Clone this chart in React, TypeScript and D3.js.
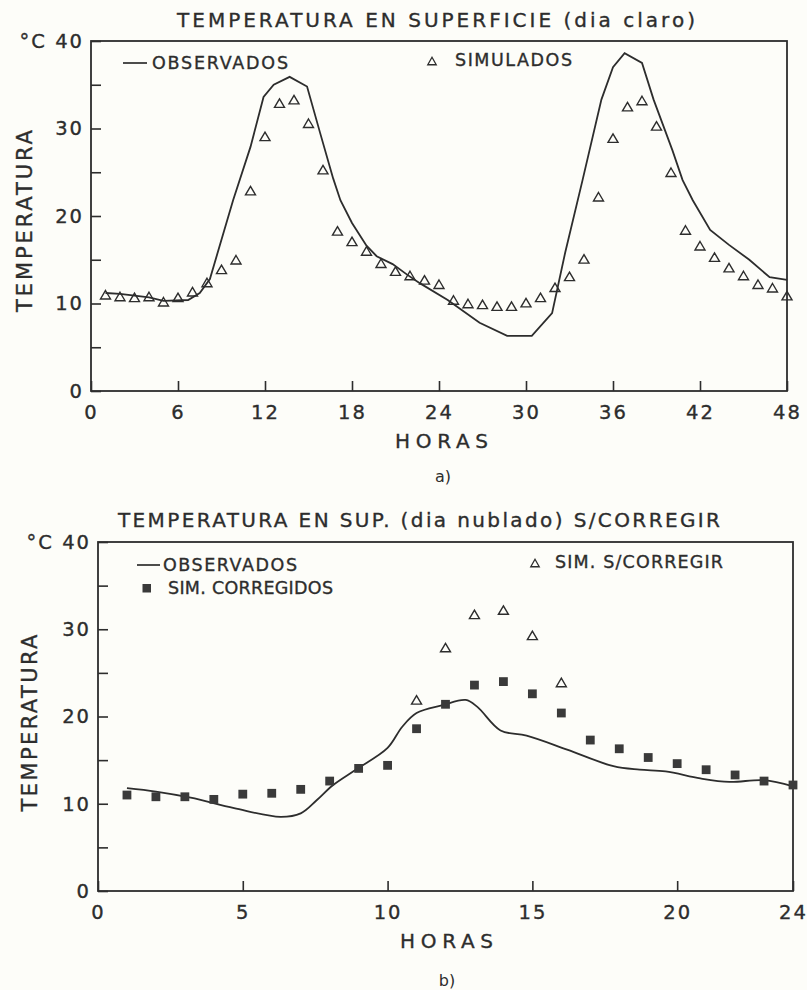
import React, { useEffect, useRef } from "react";
import * as d3 from "d3";

// a) temperatura en superficie, dia claro
const horasObsA = [1, 2, 3, 4, 5, 6.7, 7.5, 8.2, 9.8, 11, 11.9, 12.6, 13.7, 14.9, 15.8, 16.7, 17.2, 18, 19, 19.7, 20.8, 21.8, 22.7, 24.6, 26.8, 28.7, 30.4, 31.8, 32.7, 33.9, 35.2, 36, 36.8, 38, 38.8, 40.1, 40.8, 41.5, 42.7, 44, 45.4, 46.8, 48];
const tempObsA = [11.2, 11.1, 10.9, 10.7, 10.3, 10.4, 11.2, 12.8, 21.8, 27.9, 33.6, 35, 35.9, 34.8, 29.5, 24.3, 21.8, 19.2, 16.6, 15.4, 14.5, 13.3, 12.3, 10.4, 7.8, 6.3, 6.3, 8.9, 15.8, 24.1, 33.3, 37, 38.6, 37.5, 33.3, 27.5, 24.1, 21.8, 18.4, 16.7, 15.0, 13.0, 12.7];
const horasSimA = [1, 2, 3, 4, 5, 6, 7, 8, 9, 10, 11, 12, 13, 14, 15, 16, 17, 18, 19, 20, 21, 22, 23, 24, 25, 26, 27, 28, 29, 30, 31, 32, 33, 34, 35, 36, 37, 38, 39, 40, 41, 42, 43, 44, 45, 46, 47, 48];
const tempSimA = [11.0, 10.8, 10.7, 10.8, 10.2, 10.7, 11.35, 12.4, 13.9, 15.0, 22.9, 29.1, 32.9, 33.3, 30.6, 25.3, 18.3, 17.1, 16.0, 14.6, 13.7, 13.2, 12.7, 12.2, 10.4, 10.0, 9.9, 9.7, 9.7, 10.1, 10.7, 11.85, 13.1, 15.1, 22.2, 28.9, 32.5, 33.2, 30.3, 25.0, 18.4, 16.6, 15.3, 14.1, 13.2, 12.2, 11.8, 10.9];

// b) temperatura en sup., dia nublado
const horasObsB = [1, 2, 3.2, 4.7, 6.3, 7, 7.55, 8.1, 8.9, 10, 10.5, 11, 11.9, 12.7, 13.1, 13.9, 14.8, 16.2, 17.8, 18.7, 19.6, 20.8, 21.8, 23, 24];
const tempObsB = [11.8, 11.4, 10.7, 9.5, 8.5, 8.9, 10.4, 12.1, 13.9, 16.4, 18.8, 20.4, 21.3, 21.9, 21.1, 18.4, 17.8, 16.2, 14.3, 13.9, 13.7, 12.9, 12.5, 12.7, 12.0];
const horasCorrB = [1, 2, 3, 4, 5, 6, 7, 8, 9, 10, 11, 12, 13, 14, 15, 16, 17, 18, 19, 20, 21, 22, 23, 24];
const tempCorrB = [11.0, 10.8, 10.8, 10.5, 11.1, 11.2, 11.65, 12.6, 14.05, 14.4, 18.6, 21.4, 23.6, 24.0, 22.6, 20.4, 17.3, 16.3, 15.3, 14.6, 13.9, 13.3, 12.6, 12.15];
const horasSinCorrB = [11, 12, 13, 14, 15, 16];
const tempSinCorrB = [21.9, 27.9, 31.7, 32.2, 29.3, 23.9];

const ticksHorasA = [0, 6, 12, 18, 24, 30, 36, 42, 48];
const ticksHorasB = [0, 5, 10, 15, 20, 24];
const ticksTemp = [0, 5, 10, 15, 20, 25, 30, 35, 40];
const etiquetasTemp = ["0", "", "10", "", "20", "", "30", "", "°C 40"];

const INK = "#2d2d2d";
const FONT = "'DejaVu Sans', sans-serif";

function triangulo(cx: number, cy: number, w = 10, h = 8.5) {
  return `M${cx},${cy - h / 2}L${cx + w / 2},${cy + h / 2}L${cx - w / 2},${cy + h / 2}Z`;
}

function texto(g: any, x: number, y: number, s: string, size: number, len?: number) {
  const t = g
    .append("text")
    .attr("x", x)
    .attr("y", y)
    .attr("font-family", FONT)
    .attr("font-size", size)
    .attr("fill", INK)
    .attr("stroke", INK)
    .attr("stroke-width", 0.35)
    .text(s);
  if (len) t.attr("textLength", len).attr("lengthAdjust", "spacing");
  return t;
}

function panel(svg: any, cfg: any) {
  const { x, y, xTicks } = cfg;
  const [x0, x1] = x.range();
  const [y0, y1] = y.range();
  const g = svg.append("g");

  // marco
  g.append("rect")
    .attr("x", x0)
    .attr("y", y1)
    .attr("width", x1 - x0)
    .attr("height", y0 - y1)
    .attr("fill", "none")
    .attr("stroke", INK)
    .attr("stroke-width", 1.8);

  // eje x
  const ax = g
    .append("g")
    .attr("transform", "translate(0," + y0 + ")")
    .call(d3.axisBottom(x).tickValues(xTicks).tickSize(-10).tickSizeOuter(0).tickPadding(14));
  // eje y
  const ay = g
    .append("g")
    .attr("transform", "translate(" + x0 + ",0)")
    .call(
      d3
        .axisLeft(y)
        .tickValues(ticksTemp)
        .tickSize(-10)
        .tickSizeOuter(0)
        .tickPadding(7)
        .tickFormat((d: any, i: number) => etiquetasTemp[i])
    );
  [ax, ay].forEach((a) => {
    a.select(".domain").remove();
    a.selectAll("line").attr("stroke", INK).attr("stroke-width", 1.6);
    a.attr("font-family", FONT).attr("font-size", 19.5);
    a.selectAll("text")
      .attr("fill", INK)
      .attr("stroke", INK)
      .attr("stroke-width", 0.35)
      .attr("letter-spacing", 2);
  });

  // observados
  const linea = d3
    .line()
    .x((d: any) => x(d[0]))
    .y((d: any) => y(d[1]))
    .curve(cfg.curva);
  g.append("path")
    .datum(d3.zip(cfg.horasObs, cfg.tempObs))
    .attr("d", linea)
    .attr("fill", "none")
    .attr("stroke", INK)
    .attr("stroke-width", 1.8);

  // simulados (triangulos)
  g.selectAll(".tri")
    .data(d3.zip(cfg.horasTri, cfg.tempTri))
    .enter()
    .append("path")
    .attr("d", (d: any) => triangulo(x(d[0]), y(d[1])))
    .attr("fill", "none")
    .attr("stroke", INK)
    .attr("stroke-width", 1.4);

  // corregidos (cuadrados)
  if (cfg.horasSq) {
    g.selectAll(".sq")
      .data(d3.zip(cfg.horasSq, cfg.tempSq))
      .enter()
      .append("rect")
      .attr("x", (d: any) => x(d[0]) - 4.4)
      .attr("y", (d: any) => y(d[1]) - 4.4)
      .attr("width", 8.8)
      .attr("height", 8.8)
      .attr("fill", "#3a3a3a");
  }

  // titulos
  texto(g, cfg.titulo.x, cfg.titulo.y, cfg.titulo.s, 20, cfg.titulo.len);
  texto(g, cfg.horas.x, cfg.horas.y, "HORAS", 20, 93);
  texto(g, cfg.letra.x, cfg.letra.y, cfg.letra.s, 16).attr("text-anchor", "middle").attr("stroke-width", 0);
  texto(g, 0, 0, "TEMPERATURA", 21, cfg.eje.len)
    .attr("text-anchor", "middle")
    .attr("transform", "translate(" + cfg.eje.x + "," + cfg.eje.y + ") rotate(-90)");

  return g;
}

export default function App() {
  const ref = useRef<SVGSVGElement>(null);

  useEffect(() => {
    const svg = d3.select(ref.current);
    svg.selectAll("*").remove();

    // panel a)
    const xA = d3.scaleLinear().domain([0, 48]).range([91, 787]);
    const yA = d3.scaleLinear().domain([0, 40]).range([391, 41]);
    const gA = panel(svg, {
      x: xA,
      y: yA,
      xTicks: ticksHorasA,
      horasObs: horasObsA,
      tempObs: tempObsA,
      horasTri: horasSimA,
      tempTri: tempSimA,
      curva: d3.curveLinear,
      titulo: { x: 177, y: 27, s: "TEMPERATURA EN SUPERFICIE (dia claro)", len: 518 },
      horas: { x: 395, y: 448 },
      letra: { x: 443, y: 482, s: "a)" },
      eje: { x: 32, y: 221, len: 182 },
    });
    gA.append("line").attr("x1", 123).attr("x2", 147).attr("y1", 63).attr("y2", 63).attr("stroke", INK).attr("stroke-width", 1.7);
    texto(gA, 152, 69, "OBSERVADOS", 17.5, 136);
    gA.append("path").attr("d", triangulo(432, 61, 8.5, 7.5)).attr("fill", "none").attr("stroke", INK).attr("stroke-width", 1.3);
    texto(gA, 455, 66, "SIMULADOS", 17.5, 117);

    // panel b)
    const xB = d3.scaleLinear().domain([0, 24]).range([98, 793]);
    const yB = d3.scaleLinear().domain([0, 40]).range([891, 542]);
    const gB = panel(svg, {
      x: xB,
      y: yB,
      xTicks: ticksHorasB,
      horasObs: horasObsB,
      tempObs: tempObsB,
      horasTri: horasSinCorrB,
      tempTri: tempSinCorrB,
      horasSq: horasCorrB,
      tempSq: tempCorrB,
      curva: d3.curveCatmullRom,
      titulo: { x: 118, y: 527, s: "TEMPERATURA EN SUP. (dia nublado) S/CORREGIR", len: 602 },
      horas: { x: 400, y: 948 },
      letra: { x: 447, y: 986, s: "b)" },
      eje: { x: 37, y: 723, len: 177 },
    });
    gB.append("line").attr("x1", 137).attr("x2", 160).attr("y1", 565).attr("y2", 565).attr("stroke", INK).attr("stroke-width", 1.7);
    texto(gB, 163, 571, "OBSERVADOS", 17.5, 134);
    gB.append("rect").attr("x", 142.5).attr("y", 584).attr("width", 8.5).attr("height", 8.5).attr("fill", "#3a3a3a");
    texto(gB, 168, 594, "SIM. CORREGIDOS", 17.5, 165);
    gB.append("path").attr("d", triangulo(535, 563, 8.5, 7.5)).attr("fill", "none").attr("stroke", INK).attr("stroke-width", 1.3);
    texto(gB, 555, 568, "SIM. S/CORREGIR", 17.5, 168);
  }, []);

  return (
    <svg
      ref={ref}
      width={807}
      height={990}
      style={{ position: "absolute", left: 0, top: 0, background: "#fdfdf9" }}
    />
  );
}
